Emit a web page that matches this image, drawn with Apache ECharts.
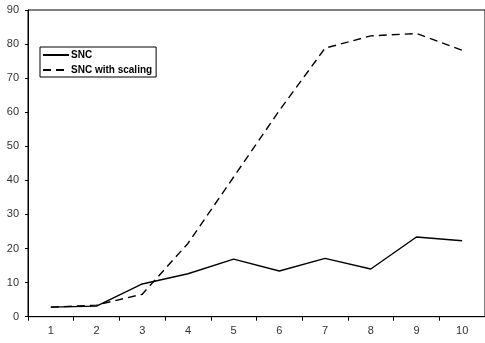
<!DOCTYPE html>
<html>
<head>
<meta charset="utf-8">
<script src="https://cdn.jsdelivr.net/npm/echarts@6/dist/echarts.min.js"></script>
<style>
html,body{margin:0;padding:0;background:#fff;}
#chart{width:485px;height:343px;}
</style>
</head>
<body>
<div id="chart"></div>
<script>
var categories = ['1','2','3','4','5','6','7','8','9','10'];
var sncValues = [2.8, 3.1, 9.6, 12.6, 16.9, 13.4, 17.1, 14.0, 23.4, 22.3];
var sncScalingValues = [2.8, 3.4, 6.6, 21.5, 41, 60.5, 78.8, 82.4, 83.1, 78.2];
var seriesNames = ['SNC', 'SNC with scaling'];

var chart = echarts.init(document.getElementById('chart'));
chart.setOption({
  animation: false,
  backgroundColor: '#fff',
  grid: {left: 28, top: 10, right: -6, bottom: 26.3, show: true, borderColor: '#000', borderWidth: 1, backgroundColor: 'transparent'},
  legend: {
    orient: 'vertical', left: 40, top: 47,
    data: seriesNames,
    itemWidth: 26, itemHeight: 12, itemGap: 5,
    padding: [3, 4, 2, 2],
    backgroundColor: '#fff', borderColor: '#000', borderWidth: 1,
    itemStyle: {opacity: 0},
    textStyle: {fontFamily: 'Liberation Sans, Arial', fontSize: 10, fontWeight: 'bold', color: '#000', padding: [0,0,0,-3]}
  },
  xAxis: {
    type: 'category', data: categories, boundaryGap: true,
    axisLine: {lineStyle: {color: '#000', width: 1}},
    axisTick: {show: true, length: 4, inside: false, lineStyle: {color: '#000'}},
    axisLabel: {fontFamily: 'Liberation Sans, Arial', fontSize: 11, color: '#333', margin: 9},
    splitLine: {show: false}
  },
  yAxis: {
    type: 'value', min: 0, max: 90, interval: 10,
    axisLine: {show: true, lineStyle: {color: '#000', width: 1}},
    axisTick: {show: true, length: 3, lineStyle: {color: '#000'}},
    axisLabel: {fontFamily: 'Liberation Sans, Arial', fontSize: 11, color: '#333', margin: 9},
    splitLine: {show: false}
  },
  series: [
    {name: seriesNames[0], type: 'line', data: sncValues, symbol: 'none',
     lineStyle: {color: '#000', width: 1.4}, itemStyle: {color: '#000'}},
    {name: seriesNames[1], type: 'line', data: sncScalingValues, symbol: 'none',
     lineStyle: {color: '#000', width: 1.4, type: [8, 5]}, itemStyle: {color: '#000'}}
  ]
});
</script>
</body>
</html>
